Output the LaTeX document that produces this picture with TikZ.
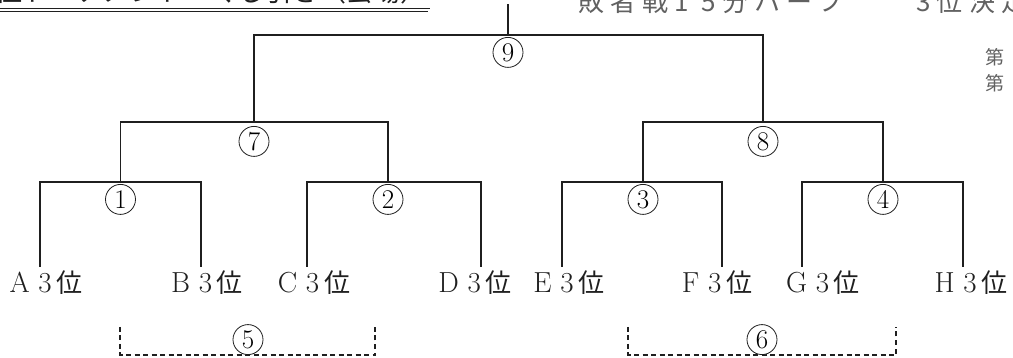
\documentclass[tikz,border=0pt]{standalone}
\usepackage{fontspec}
\newfontfamily\jp{Noto Sans CJK JP}
\usetikzlibrary{positioning}
\definecolor{ink}{gray}{0.12}
\definecolor{faded}{gray}{0.38}
\newcommand{\thirdplace}{3\,{\jp\fontsize{26}{26}\selectfont 位}}
\tikzset{
  bracket/.style={draw=ink, line width=1.6pt},
  loser/.style={draw=ink, line width=1.5pt, dash pattern=on 5pt off 3.5pt},
  match/.style={draw=ink, circle, line width=0.8pt, minimum size=30pt, inner sep=0pt, fill=white, font=\fontsize{27}{27}\selectfont},
  team/.style={inner sep=0pt, text=ink, font=\fontsize{29}{30}\selectfont},
  heading/.style={inner sep=0pt, anchor=base west, font=\jp\fontsize{26}{26}\selectfont\addfontfeatures{LetterSpace=24}}
}

\begin{document}
\begin{tikzpicture}[x=1pt, y=-1pt]
\useasboundingbox (0,0) rectangle (1013,358);

% Headings (cut at the top edge)
\node[inner sep=0pt, anchor=base west, text=ink, font=\jp\fontsize{27}{27}\selectfont] (title) at (-5,2) {位トーナメント　くじ引き（会場）};
\draw[ink, line width=1.3pt] (0,8.5) -- (430,8.5);
\draw[ink, line width=0.7pt] (0,11) -- (428,11);
\node[heading, text=faded] (loserhead) at (578,12) {敗者戦1 5分ハーフ};
\node[heading, text=faded] (thirdhead) at (916,12) {3位決定戦};
\node[text=faded, inner sep=0pt, font=\jp\fontsize{19}{19}\selectfont] (day1) at (995,57) {第};
\node[text=faded, inner sep=0pt, font=\jp\fontsize{19}{19}\selectfont] (day2) at (995,83) {第};

% Teams
\coordinate (la) at (40,267);
\coordinate (lb) at (201,267);
\coordinate (lc) at (307,267);
\coordinate (ld) at (481,267);
\coordinate (le) at (562,267);
\coordinate (lf) at (722,267);
\coordinate (lg) at (802,267);
\coordinate (lh) at (963,267);
\node[team] (A) at (46,283) {A \thirdplace};
\node[team] (B) at (207,283) {B \thirdplace};
\node[team] (C) at (314,283) {C \thirdplace};
\node[team] (D) at (475,283) {D \thirdplace};
\node[team] (E) at (569,283) {E \thirdplace};
\node[team] (F) at (717,283) {F \thirdplace};
\node[team] (G) at (823,283) {G \thirdplace};
\node[team] (H) at (971,283) {H \thirdplace};

% Junctions
\coordinate (j1) at (120.5,182);
\coordinate (j2) at (388,182);
\coordinate (j3) at (643,182);
\coordinate (j4) at (883,182);
\coordinate (j7) at (254,122);
\coordinate (j8) at (763,122);
\coordinate (j9) at (508,35);
\coordinate (top) at (508,4);

% Brackets
\draw[bracket] (la) |- (j1) -| (lb);
\draw[bracket] (lc) |- (j2) -| (ld);
\draw[bracket] (le) |- (j3) -| (lf);
\draw[bracket] (lg) |- (j4) -| (lh);
\draw[bracket] (j1) |- (j7) -| (j2);
\draw[bracket] (j3) |- (j8) -| (j4);
\draw[bracket] (j7) |- (j9) -| (j8);
\draw[bracket] (j9) -- (top);

% Matches
\node[match, below=2pt of j1] (m1) {1};
\node[match, below=2pt of j2] (m2) {2};
\node[match, below=2pt of j3] (m3) {3};
\node[match, below=2pt of j4] (m4) {4};
\node[match, below=4pt of j7] (m7) {7};
\node[match, below=4pt of j8] (m8) {8};
\node[match, below=2pt of j9] (m9) {9};

% Losers' matches
\coordinate (l5a) at (120,327);
\coordinate (l5b) at (375,327);
\coordinate (j5) at (248,355);
\coordinate (l6a) at (628,327);
\coordinate (l6b) at (896,327);
\coordinate (j6) at (762,355);
\draw[loser] (l5a) |- (j5) -| (l5b);
\draw[loser] (l6a) |- (j6) -| (l6b);
\node[match, above=0pt of j5] (m5) {5};
\node[match, above=0pt of j6] (m6) {6};

\end{tikzpicture}
\end{document}
